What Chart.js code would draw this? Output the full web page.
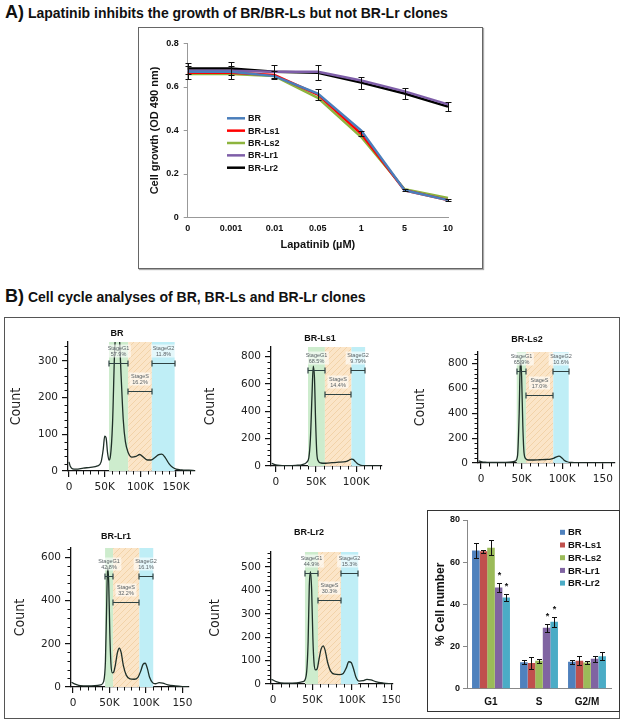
<!DOCTYPE html>
<html>
<head>
<meta charset="utf-8">
<script src="https://cdn.jsdelivr.net/npm/chart.js@4.4.1/dist/chart.umd.min.js"></script>
<style>
    body { margin: 0; background: #fff; }
    #page { position: relative; width: 624px; height: 724px; overflow: hidden; font-family: 'Liberation Sans', Arial, sans-serif; }
    canvas { position: absolute; }
    .box { position: absolute; box-sizing: border-box; }
    .ptitle { position: absolute; left: 5px; font-weight: bold; font-size: 14px; line-height: 20px; white-space: nowrap; color: #111; }
    .ptitle span { font-size: 18px; }
</style>
</head>
<body>
<div id="page">
    <div class="ptitle" style="top:2px"><span>A)</span> Lapatinib inhibits the growth of BR/BR-Ls but not BR-Lr clones</div>
    <div class="box" style="left:138px;top:27px;width:345px;height:242px;border:1px solid #666;box-shadow:1px 1px 1px #aaa"></div>
    <canvas id="growthChart" width="341" height="239" style="left:140px;top:28px"></canvas>

    <div class="ptitle" style="top:286px"><span>B)</span> Cell cycle analyses of BR, BR-Ls and BR-Lr clones</div>
    <div class="box" style="left:4px;top:317px;width:616px;height:402px;border:1px solid #555"></div>
    <div class="box" style="left:427px;top:510px;width:193px;height:202px;border:1px solid #333"></div>

    <canvas id="histBR"  width="200" height="180" style="left:6px;top:320px"></canvas>
    <canvas id="histLs1" width="205" height="180" style="left:200px;top:320px"></canvas>
    <canvas id="histLs2" width="208" height="180" style="left:410px;top:320px"></canvas>
    <canvas id="histLr1" width="195" height="190" style="left:10px;top:520px"></canvas>
    <canvas id="histLr2" width="195" height="190" style="left:205px;top:520px"></canvas>
    <canvas id="phaseChart" width="190" height="199" style="left:428px;top:511px"></canvas>
</div>

<script>
// ---- A) 細胞生長曲線資料 ----
const doseLabels = ['0', '0.001', '0.01', '0.05', '1', '5', '10'];
const growthBR  = [0.670, 0.670, 0.650, 0.570, 0.400, 0.125, 0.080];
const growthLs1 = [0.665, 0.665, 0.655, 0.565, 0.385, 0.125, 0.080];
const growthLs2 = [0.660, 0.660, 0.650, 0.550, 0.370, 0.130, 0.090];
const growthLr1 = [0.675, 0.675, 0.670, 0.670, 0.630, 0.580, 0.520];
const growthLr2 = [0.685, 0.685, 0.670, 0.665, 0.620, 0.570, 0.510];
const growthErrLs = [0.030, 0.030, 0.020, 0.027, 0.012, 0.005, 0.005];
const growthErrLr = [0.025, 0.030, 0.030, 0.035, 0.028, 0.026, 0.022];

// ---- B) 流式細胞直方圖 (x 單位 K) ----
const gateNames = ['StageG1', 'StageS', 'StageG2'];
const xTickValues = [0, 50, 100, 150];
const ticksFull = ['0', '50K', '100K', '150K'];
const ticksCut  = ['0', '50K', '100K', '150'];

const brX = [0, 2, 5, 10, 20, 30, 40, 45, 48, 50, 52, 54, 56, 58, 61, 64, 67, 70, 73, 76, 79, 83, 88, 94, 99, 104, 110, 115, 120, 125, 130, 135, 140, 145, 150, 158, 168, 176];
const brY = [25, 12, 6, 5, 8, 10, 14, 25, 60, 95, 90, 50, 30, 40, 130, 330, 390, 380, 260, 140, 80, 50, 38, 40, 45, 38, 30, 30, 36, 44, 46, 36, 20, 10, 5, 3, 2, 1];
const brGates = [[56, 83], [83, 116], [116, 148]];
const brPct = ['57.9%', '16.2%', '11.8%'];

const ls1X = [-5, -2, 2, 8, 15, 25, 33, 38, 41, 43, 45, 46.5, 48, 49.5, 51, 53, 56, 62, 70, 78, 84, 88, 91, 94, 96, 99, 102, 106, 112, 120, 130];
const ls1Y = [20, 12, 6, 3, 3, 5, 10, 25, 60, 200, 520, 730, 650, 320, 90, 35, 22, 20, 24, 28, 30, 34, 42, 50, 48, 32, 14, 5, 2, 1, 0];
const ls1Gates = [[40, 61], [61, 94], [94, 111]];
const ls1Pct = ['68.5%', '14.4%', '9.79%'];

const ls2X = [-3, 0, 5, 10, 20, 30, 38, 42, 45, 47, 48.5, 50, 51.5, 53, 55, 58, 65, 72, 80, 86, 90, 93, 96, 99, 102, 106, 112, 120, 135, 150, 163];
const ls2Y = [18, 12, 6, 4, 4, 5, 8, 15, 60, 400, 840, 700, 300, 80, 35, 24, 24, 26, 28, 32, 40, 50, 55, 45, 25, 10, 4, 2, 1, 0, 0];
const ls2Gates = [[44, 55.5], [55.5, 89], [89, 108]];
const ls2Pct = ['65.9%', '17.0%', '10.6%'];

const lr1X = [-2, 0, 4, 10, 20, 30, 38, 42, 44.5, 46, 47.5, 49, 50.5, 52, 54, 56, 58, 61, 63.5, 66, 69, 73, 78, 84, 89, 93, 96, 99, 102, 105, 109, 113, 118, 123, 130, 140, 150, 158];
const lr1Y = [22, 18, 12, 6, 5, 6, 10, 25, 120, 350, 560, 480, 250, 110, 65, 70, 100, 160, 180, 160, 100, 55, 38, 36, 45, 75, 105, 110, 85, 45, 20, 15, 20, 18, 10, 5, 2, 1];
const lr1Gates = [[44, 55], [55, 91], [91, 110]];
const lr1Pct = ['42.8%', '32.2%', '16.1%'];

const lr2X = [-2, 0, 4, 10, 20, 30, 38, 42, 44.5, 46, 47.5, 49, 50.5, 52, 54, 56, 58, 61, 63.5, 66, 69, 73, 78, 84, 89, 93, 96, 99, 102, 105, 109, 114, 119, 124, 130, 140, 150];
const lr2Y = [20, 17, 10, 5, 4, 5, 10, 35, 180, 420, 480, 400, 200, 90, 60, 65, 100, 150, 163, 145, 95, 55, 42, 40, 45, 70, 95, 92, 65, 30, 12, 14, 20, 18, 10, 4, 1];
const lr2Gates = [[40.5, 57], [57, 86], [86, 108]];
const lr2Pct = ['44.9%', '30.3%', '15.3%'];

// ---- B) 細胞週期百分比 ----
const phaseLabels = ['G1', 'S', 'G2/M'];
const pctBR  = [65.5, 12.5, 12.8];
const pctLs1 = [65.2, 12.2, 13.3];
const pctLs2 = [66.8, 13.2, 12.4];
const pctLr1 = [48.0, 28.9, 14.2];
const pctLr2 = [43.2, 31.8, 15.4];
const errBR  = [3.5, 1.0, 1.0];
const errLs1 = [0.8, 3.0, 2.0];
const errLs2 = [3.5, 0.8, 0.9];
const errLr1 = [2.2, 1.8, 1.5];
const errLr2 = [1.5, 2.4, 1.8];
const sigLr1 = [true, true, false];
const sigLr2 = [true, true, false];

const seriesNames = ['BR', 'BR-Ls1', 'BR-Ls2', 'BR-Lr1', 'BR-Lr2'];

Chart.defaults.font.family = "'Liberation Sans', Arial, sans-serif";
Chart.defaults.color = '#222';
Chart.defaults.animation = false;
Chart.defaults.plugins.legend.display = false;
Chart.defaults.plugins.tooltip.enabled = false;

// 強制座標軸尺寸，讓繪圖區落在指定位置
function fixWidth(w) {
    return s => { s.width = w; s.paddingTop = 0; s.paddingBottom = 0; s.paddingLeft = 0; s.paddingRight = 0; };
}
function fixHeight(h) {
    return s => { s.height = h; s.paddingTop = 0; s.paddingBottom = 0; s.paddingLeft = 0; s.paddingRight = 0; };
}

/**
 * 誤差線
 */
const errorBarPlugin = {
    id: 'errorBars',
    afterDatasetsDraw(chart, args, opts) {
        const ctx = chart.ctx;
        const yScale = chart.scales.y;
        const cap = opts.cap || 3;
        ctx.save();
        ctx.strokeStyle = opts.color || '#111';
        ctx.lineWidth = opts.lineWidth || 1;
        chart.data.datasets.forEach((ds, i) => {
            if (!ds.errors) return;
            const meta = chart.getDatasetMeta(i);
            meta.data.forEach((el, j) => {
                const v = ds.data[j];
                const e = ds.errors[j];
                if (!e) return;
                const x = Math.round(el.x) + 0.5;
                const yTop = Math.round(yScale.getPixelForValue(v + e)) + 0.5;
                const yBot = Math.round(yScale.getPixelForValue(v - e)) + 0.5;
                ctx.beginPath();
                ctx.moveTo(x, yTop); ctx.lineTo(x, yBot);
                ctx.moveTo(x - cap, yTop); ctx.lineTo(x + cap, yTop);
                ctx.moveTo(x - cap, yBot); ctx.lineTo(x + cap, yBot);
                ctx.stroke();
                if (ds.stars && ds.stars[j]) {
                    ctx.fillStyle = '#111';
                    ctx.font = "bold 9px 'Liberation Sans'";
                    ctx.textAlign = 'center';
                    ctx.textBaseline = 'middle';
                    ctx.fillText('*', x, yTop - 8);
                }
            });
        });
        ctx.restore();
    }
};

/**
 * 圖例 (畫在繪圖區內)
 */
const innerLegendPlugin = {
    id: 'innerLegend',
    afterDatasetsDraw(chart, args, opts) {
        const ctx = chart.ctx;
        ctx.save();
        chart.data.datasets.forEach((ds, i) => {
            const y = opts.y + i * opts.step;
            if (opts.kind === 'line') {
                ctx.strokeStyle = ds.borderColor;
                ctx.lineWidth = ds.borderWidth;
                ctx.beginPath();
                ctx.moveTo(opts.x, y);
                ctx.lineTo(opts.x + opts.len, y);
                ctx.stroke();
            } else {
                ctx.fillStyle = ds.backgroundColor;
                ctx.fillRect(opts.x, y - opts.len / 2, opts.len, opts.len);
            }
            ctx.fillStyle = '#111';
            ctx.font = opts.font;
            ctx.textAlign = 'left';
            ctx.textBaseline = 'middle';
            ctx.fillText(ds.label, opts.x + opts.len + 3, y + 0.5);
        });
        ctx.restore();
    }
};

/**
 * 自由文字
 */
const notesPlugin = {
    id: 'notes',
    afterDraw(chart, args, opts) {
        const ctx = chart.ctx;
        (opts.items || []).forEach(n => {
            ctx.save();
            ctx.font = n.font;
            ctx.fillStyle = n.color || '#111';
            ctx.textAlign = 'center';
            ctx.textBaseline = 'middle';
            ctx.fillText(n.text, n.x, n.y);
            ctx.restore();
        });
    }
};

// S 期的斜線底紋
function makeHatch() {
    const c = document.createElement('canvas');
    c.width = 6; c.height = 6;
    const g = c.getContext('2d');
    g.fillStyle = '#fbe5c8';
    g.fillRect(0, 0, 6, 6);
    g.strokeStyle = '#f2d3a9';
    g.lineWidth = 1;
    g.beginPath();
    g.moveTo(0, 6); g.lineTo(6, 0);
    g.stroke();
    return c;
}
const hatchCanvas = makeHatch();

/**
 * 直方圖閘門、底色與次刻度
 */
const gatesPlugin = {
    id: 'gates',
    beforeDatasetsDraw(chart, args, opts) {
        const { ctx, chartArea, scales: { x } } = chart;
        const fills = ['#cdeccd', ctx.createPattern(hatchCanvas, 'repeat'), '#bfeef6'];
        ctx.save();
        opts.bands.forEach((b, i) => {
            const x1 = x.getPixelForValue(b[0]);
            const x2 = x.getPixelForValue(b[1]);
            ctx.fillStyle = fills[i];
            ctx.fillRect(x1, chartArea.top, x2 - x1, chartArea.bottom - chartArea.top);
        });
        ctx.restore();
    },
    afterDatasetsDraw(chart, args, opts) {
        const { ctx, scales: { x, y } } = chart;
        ctx.save();
        opts.bands.forEach((b, i) => {
            const x1 = Math.round(x.getPixelForValue(b[0]));
            const x2 = Math.round(x.getPixelForValue(b[1]));
            const py = Math.round(y.getPixelForValue(opts.levels[i])) + 0.5;
            const cx = (x1 + x2) / 2;
            ctx.font = "5.5px 'Liberation Sans'";
            const w = Math.max(ctx.measureText(gateNames[i]).width, ctx.measureText(opts.pct[i]).width) + 3;
            ctx.fillStyle = 'rgba(255,255,255,0.6)';
            ctx.fillRect(cx - w / 2, py - 19, w, 13);
            ctx.fillStyle = '#5a6266';
            ctx.textAlign = 'center';
            ctx.textBaseline = 'middle';
            ctx.fillText(gateNames[i], cx, py - 15);
            ctx.fillText(opts.pct[i], cx, py - 9.5);
            ctx.strokeStyle = '#2e4242';
            ctx.lineWidth = 1.2;
            ctx.beginPath();
            ctx.moveTo(x1, py); ctx.lineTo(x2, py);
            ctx.moveTo(x1, py - 3); ctx.lineTo(x1, py + 3);
            ctx.moveTo(x2, py - 3); ctx.lineTo(x2, py + 3);
            ctx.stroke();
        });
        ctx.restore();
    },
    afterDraw(chart, args, opts) {
        const { ctx, chartArea, scales: { x, y } } = chart;
        ctx.save();
        ctx.strokeStyle = '#111';
        ctx.lineWidth = 1;
        ctx.beginPath();
        for (let v = opts.yMinor; v <= y.max; v += opts.yMinor) {
            if (v % opts.yMajor === 0) continue;
            const py = Math.round(y.getPixelForValue(v)) + 0.5;
            ctx.moveTo(chartArea.left - 3.5, py);
            ctx.lineTo(chartArea.left, py);
        }
        for (let v = Math.ceil(x.min / 10) * 10; v <= x.max; v += 10) {
            if (v % 50 === 0) continue;
            const px = Math.round(x.getPixelForValue(v)) + 0.5;
            ctx.moveTo(px, chartArea.bottom);
            ctx.lineTo(px, chartArea.bottom + 3.5);
        }
        ctx.stroke();
        ctx.restore();
    }
};

// ---- A) 生長曲線 ----
const lineColors = ['#4a7ebb', '#ff0000', '#8db43e', '#7e5ea8', '#000000'];
const growthSeries = [growthBR, growthLs1, growthLs2, growthLr1, growthLr2];

new Chart(document.getElementById('growthChart'), {
    type: 'line',
    data: {
        labels: doseLabels,
        datasets: growthSeries.map((d, i) => ({
            label: seriesNames[i],
            data: d,
            borderColor: lineColors[i],
            borderWidth: 2.5,
            pointRadius: 0,
            tension: 0,
            errors: i === 1 ? growthErrLs : (i === 4 ? growthErrLr : null)
        }))
    },
    options: {
        responsive: false,
        layout: { padding: { top: 15.5, right: 33, left: 0, bottom: 0 } },
        scales: {
            x: {
                type: 'category',
                offset: false,
                grid: { display: false, drawTicks: false },
                border: { color: '#999' },
                ticks: { font: { size: 9, weight: 'bold' }, padding: 6, maxRotation: 0, autoSkip: false, color: '#111' },
                title: { display: true, text: 'Lapatinib (µM)', font: { size: 11, weight: 'bold' }, color: '#111', padding: { top: 0, bottom: 15 } },
                afterFit: fixHeight(49.5)
            },
            y: {
                min: 0,
                max: 0.8,
                bounds: 'data',
                ticks: { stepSize: 0.2, font: { size: 9, weight: 'bold' }, padding: 5, color: '#111',
                    callback: v => v === 0 ? '0' : v.toFixed(1) },
                grid: { drawOnChartArea: false, tickLength: 4, color: '#999' },
                border: { color: '#999' },
                title: { display: true, text: 'Cell growth (OD 490 nm)', font: { size: 11, weight: 'bold' }, color: '#111', padding: { top: 8, bottom: 0 } },
                afterFit: fixWidth(47.7)
            }
        },
        plugins: {
            errorBars: { cap: 3, color: '#111', lineWidth: 1 },
            innerLegend: { kind: 'line', x: 87, y: 90.3, step: 12.35, len: 18, font: "bold 9px 'Liberation Sans'" }
        }
    },
    plugins: [errorBarPlugin, innerLegendPlugin]
});

// ---- B) 直方圖 ----
function makeHistogram(id, cfg) {
    const yTickValues = [];
    for (let v = 0; v <= cfg.yMax; v += cfg.yStep) yTickValues.push(v);

    new Chart(document.getElementById(id), {
        type: 'line',
        data: {
            datasets: [{
                data: cfg.xs.map((x, i) => ({ x: x, y: cfg.ys[i] })),
                borderColor: '#1f2f28',
                borderWidth: 1.3,
                pointRadius: 0,
                cubicInterpolationMode: 'monotone',
                fill: false
            }]
        },
        options: {
            responsive: false,
            layout: { padding: { top: cfg.padTop, right: cfg.padRight, left: 0, bottom: 0 } },
            scales: {
                x: {
                    type: 'linear',
                    bounds: 'data',
                    min: cfg.xMin,
                    max: cfg.xMax,
                    border: { color: '#111', width: 1.3 },
                    grid: { drawOnChartArea: false, tickLength: 6, color: '#111', lineWidth: 1.2 },
                    ticks: { padding: 4, autoSkip: false, maxRotation: 0,
                        font: { family: "'DejaVu Sans', sans-serif", size: 10.5 }, color: '#222',
                        callback: v => cfg.tickText[xTickValues.indexOf(v)] },
                    afterBuildTicks: s => { s.ticks = xTickValues.filter(v => v <= s.max).map(v => ({ value: v })); },
                    afterFit: fixHeight(cfg.xAxisH)
                },
                y: {
                    type: 'linear',
                    bounds: 'data',
                    min: 0,
                    max: cfg.yMax,
                    border: { color: '#111', width: 1.3 },
                    grid: { drawOnChartArea: false, tickLength: 6, color: '#111', lineWidth: 1.2 },
                    ticks: { padding: 4, autoSkip: false,
                        font: { family: "'DejaVu Sans', sans-serif", size: 10.5 }, color: '#222' },
                    afterBuildTicks: s => { s.ticks = yTickValues.map(v => ({ value: v })); },
                    title: { display: true, text: 'Count', color: '#222',
                        font: { family: "'Liberation Sans Narrow', 'DejaVu Sans Condensed', sans-serif", size: 14 },
                        padding: { top: 1.5, bottom: 0 } },
                    afterFit: fixWidth(cfg.yAxisW)
                }
            },
            plugins: {
                gates: { bands: cfg.gates, levels: cfg.levels, pct: cfg.pct, yMinor: cfg.yMinor, yMajor: cfg.yStep },
                notes: { items: [{ text: cfg.title, x: cfg.titleX, y: cfg.titleY, font: "bold 9px 'Liberation Sans'" }] }
            }
        },
        plugins: [gatesPlugin, notesPlugin]
    });
}

makeHistogram('histBR', {
    xs: brX, ys: brY, gates: brGates, pct: brPct, title: 'BR', tickText: ticksFull,
    xMin: -1.4, xMax: 176.5, yMax: 352, yStep: 100, yMinor: 20, levels: [294, 218, 294],
    padTop: 22, padRight: 11, yAxisW: 62, xAxisH: 29, titleX: 111, titleY: 14
});
makeHistogram('histLs1', {
    xs: ls1X, ys: ls1Y, gates: ls1Gates, pct: ls1Pct, title: 'BR-Ls1', tickText: ticksFull,
    xMin: -6, xMax: 132, yMax: 870, yStep: 200, yMinor: 40, levels: [702, 526, 702],
    padTop: 27, padRight: 23, yAxisW: 71, xAxisH: 34, titleX: 120, titleY: 19
});
makeHistogram('histLs2', {
    xs: ls2X, ys: ls2Y, gates: ls2Gates, pct: ls2Pct, title: 'BR-Ls2', tickText: ticksCut,
    xMin: -3.7, xMax: 165, yMax: 893, yStep: 200, yMinor: 40, levels: [738, 550, 738],
    padTop: 32, padRight: 3, yAxisW: 68, xAxisH: 37, titleX: 117, titleY: 20
});
makeHistogram('histLr1', {
    xs: lr1X, ys: lr1Y, gates: lr1Gates, pct: lr1Pct, title: 'BR-Lr1', tickText: ticksCut,
    xMin: -2.7, xMax: 159, yMax: 644, yStep: 200, yMinor: 40, levels: [514, 395, 514],
    padTop: 28, padRight: 16, yAxisW: 61, xAxisH: 23, titleX: 106, titleY: 17
});
makeHistogram('histLr2', {
    xs: lr2X, ys: lr2Y, gates: lr2Gates, pct: lr2Pct, title: 'BR-Lr2', tickText: ticksCut,
    xMin: -2.5, xMax: 152, yMax: 564, yStep: 100, yMinor: 20, levels: [474, 358, 474],
    padTop: 32, padRight: 7, yAxisW: 66, xAxisH: 26, titleX: 104, titleY: 13
});

// ---- B) 細胞週期長條圖 ----
const barColors = ['#4f81bd', '#c0504d', '#9bbb59', '#8064a2', '#4bacc6'];
const phaseSeries = [pctBR, pctLs1, pctLs2, pctLr1, pctLr2];
const phaseErrors = [errBR, errLs1, errLs2, errLr1, errLr2];
const phaseStars = [null, null, null, sigLr1, sigLr2];

new Chart(document.getElementById('phaseChart'), {
    type: 'bar',
    data: {
        labels: phaseLabels,
        datasets: phaseSeries.map((d, i) => ({
            label: seriesNames[i],
            data: d,
            backgroundColor: barColors[i],
            borderWidth: 0,
            categoryPercentage: 0.79,
            barPercentage: 1,
            errors: phaseErrors[i],
            stars: phaseStars[i]
        }))
    },
    options: {
        responsive: false,
        layout: { padding: { top: 9, right: 7, left: 0, bottom: 0 } },
        scales: {
            x: {
                grid: { display: false, drawTicks: false },
                border: { color: '#888' },
                ticks: { font: { size: 10, weight: 'bold' }, padding: 8, color: '#111' },
                afterFit: fixHeight(21.3)
            },
            y: {
                min: 0,
                max: 80,
                bounds: 'data',
                ticks: { stepSize: 20, font: { size: 9, weight: 'bold' }, padding: 3, color: '#111' },
                grid: { drawOnChartArea: false, tickLength: 4, color: '#888' },
                border: { color: '#888' },
                title: { display: true, text: '% Cell number', font: { size: 12, weight: 'bold' }, color: '#111', padding: { top: 5, bottom: 0 } },
                afterFit: fixWidth(39)
            }
        },
        plugins: {
            errorBars: { cap: 2.5, color: '#111', lineWidth: 1 },
            innerLegend: { kind: 'box', x: 132, y: 21.3, step: 12.7, len: 5, font: "bold 9.5px 'Liberation Sans'" }
        }
    },
    plugins: [errorBarPlugin, innerLegendPlugin]
});
</script>
</body>
</html>
